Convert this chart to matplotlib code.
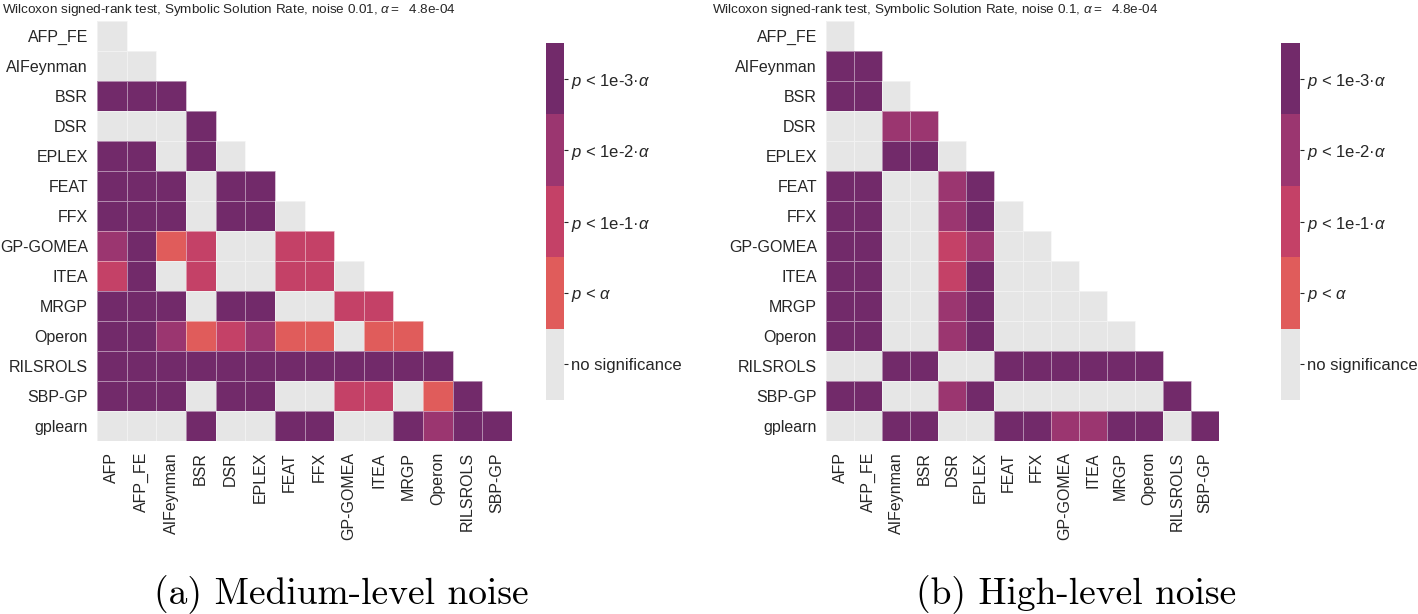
import numpy as np
import matplotlib
matplotlib.use("Agg")
import matplotlib.pyplot as plt
from matplotlib import font_manager
from matplotlib.colors import ListedColormap, BoundaryNorm
from matplotlib.cm import ScalarMappable

plt.rcParams['font.family'] = ['Liberation Sans', 'DejaVu Sans']
plt.rcParams['mathtext.fontset'] = 'custom'
plt.rcParams['mathtext.rm'] = 'Liberation Sans'
plt.rcParams['mathtext.it'] = 'Liberation Sans:italic'
plt.rcParams['mathtext.bf'] = 'Liberation Sans:bold'

row_labels = ["AFP_FE", "AIFeynman", "BSR", "DSR", "EPLEX", "FEAT", "FFX",
              "GP-GOMEA", "ITEA", "MRGP", "Operon", "RILSROLS", "SBP-GP", "gplearn"]
col_labels = ["AFP", "AFP_FE", "AIFeynman", "BSR", "DSR", "EPLEX", "FEAT", "FFX",
              "GP-GOMEA", "ITEA", "MRGP", "Operon", "RILSROLS", "SBP-GP"]
level_labels = ["no significance", r"$p$ < $\alpha$", r"$p$ < 1e-1·$\alpha$",
                r"$p$ < 1e-2·$\alpha$", r"$p$ < 1e-3·$\alpha$"]
level_colors = ["#e6e6e6", "#e05c5b", "#c44167", "#9b3670", "#722a6a"]

# significance level: 0 none, 1 p<a, 2 p<1e-1a, 3 p<1e-2a, 4 p<1e-3a
medium_noise = [
    [0],
    [0, 0],
    [4, 4, 4],
    [0, 0, 0, 4],
    [4, 4, 0, 4, 0],
    [4, 4, 4, 0, 4, 4],
    [4, 4, 4, 0, 4, 4, 0],
    [3, 4, 1, 2, 0, 0, 2, 2],
    [2, 4, 0, 2, 0, 0, 2, 2, 0],
    [4, 4, 4, 0, 4, 4, 0, 0, 2, 2],
    [4, 4, 3, 1, 2, 3, 1, 1, 0, 1, 1],
    [4, 4, 4, 4, 4, 4, 4, 4, 4, 4, 4, 4],
    [4, 4, 4, 0, 4, 4, 0, 0, 2, 2, 0, 1, 4],
    [0, 0, 0, 4, 0, 0, 4, 4, 0, 0, 4, 3, 4, 4],
]
high_noise = [
    [0],
    [4, 4],
    [4, 4, 0],
    [0, 0, 3, 3],
    [0, 0, 4, 4, 0],
    [4, 4, 0, 0, 3, 4],
    [4, 4, 0, 0, 3, 4, 0],
    [4, 4, 0, 0, 2, 3, 0, 0],
    [4, 4, 0, 0, 2, 4, 0, 0, 0],
    [4, 4, 0, 0, 3, 4, 0, 0, 0, 0],
    [4, 4, 0, 0, 3, 4, 0, 0, 0, 0, 0],
    [0, 0, 4, 4, 0, 0, 4, 4, 4, 4, 4, 4],
    [4, 4, 0, 0, 3, 4, 0, 0, 0, 0, 0, 0, 4],
    [0, 0, 4, 4, 0, 0, 4, 4, 3, 3, 4, 4, 0, 4],
]
titles = ["Wilcoxon signed-rank test, Symbolic Solution Rate, noise 0.01, $\\alpha =$  4.8e-04",
          "Wilcoxon signed-rank test, Symbolic Solution Rate, noise 0.1, $\\alpha =$  4.8e-04"]
captions = ["(a) Medium-level noise", "(b) High-level noise"]

# condensed sans for the titles if available
_names = {f.name for f in font_manager.fontManager.ttflist}
if 'Liberation Sans Narrow' in _names:
    title_font = dict(family=['Liberation Sans Narrow', 'Liberation Sans'], fontsize=12)
else:
    title_font = dict(family=['Liberation Sans', 'DejaVu Sans'], fontsize=9.7)

W, H = 1418, 614
fig = plt.figure(figsize=(W / 100, H / 100), dpi=100)
cmap = ListedColormap(level_colors)
norm = BoundaryNorm(np.arange(-0.5, len(level_colors) + 0.5, 1), cmap.N)
tc = "#262626"


def px_axes(x0, y0, x1, y1):
    return fig.add_axes([x0 / W, 1 - y1 / H, (x1 - x0) / W, (y1 - y0) / H])


def draw(data, hm_box, cb_box, title, title_x, caption, cap_x):
    ax = px_axes(*hm_box)
    cax = px_axes(*cb_box)
    nr, nc = len(row_labels), len(col_labels)
    M = np.full((nr, nc), np.nan)
    for i, r in enumerate(data):
        M[i, :len(r)] = r
    Mm = np.ma.masked_invalid(M)
    ax.pcolormesh(Mm, cmap=cmap, norm=norm, edgecolors=(1, 1, 1, 0.45), linewidth=0.7)
    ax.set_xlim(0, nc)
    ax.set_ylim(nr, 0)
    for s in ax.spines.values():
        s.set_visible(False)
    ax.set_xticks(np.arange(nc) + 0.5)
    ax.set_xticklabels(col_labels, rotation=90, fontsize=11.5, color=tc)
    ax.set_yticks(np.arange(nr) + 0.5)
    ax.set_yticklabels(row_labels, fontsize=11.5, color=tc)
    ax.tick_params(axis='both', length=0)
    ax.tick_params(axis='y', pad=6.5)
    ax.tick_params(axis='x', pad=8)

    sm = ScalarMappable(norm=norm, cmap=cmap)
    cb = fig.colorbar(sm, cax=cax, ticks=np.arange(len(level_colors)))
    cb.set_ticklabels(level_labels)
    cb.minorticks_off()
    cb.outline.set_visible(False)
    cax.tick_params(which='both', length=3, width=0.8, pad=2, labelsize=12,
                    color=tc, labelcolor=tc)
    cax.tick_params(which='minor', length=0)

    fig.text(title_x / W, 1 - 10 / H, title, color=tc, ha='left', va='center', **title_font)
    fig.text(cap_x / W, 1 - 595 / H, caption, family='cmr10', fontsize=27,
             color='black', ha='center', va='center')


draw(medium_noise, (97, 21, 512, 441), (546, 43, 564, 400), titles[0], 2, captions[0], 341)
draw(high_noise, (826, 21, 1219, 441), (1281, 43, 1300, 400), titles[1], 712, captions[1], 1076)

fig.savefig("out.png", dpi=100, facecolor='white')
